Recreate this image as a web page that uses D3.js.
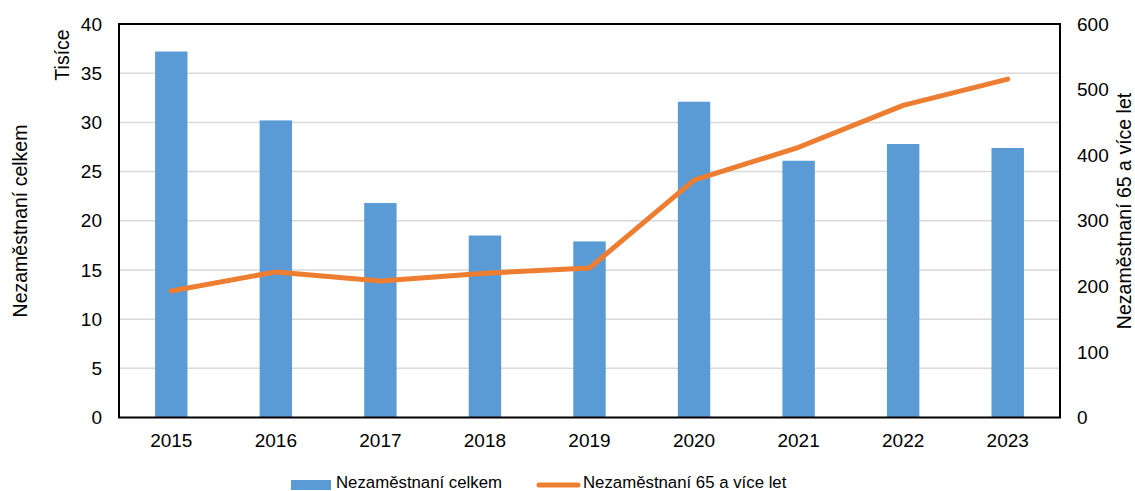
<!DOCTYPE html>
<html>
<head>
<meta charset="utf-8">
<script src="https://cdn.jsdelivr.net/npm/d3@7"></script>
<style>
  body { margin: 0; background: #fff; }
  svg text { font-family: "Liberation Sans", Arial, sans-serif; fill: #000; }
</style>
</head>
<body>
<div id="chart"></div>
<script>
// data
const years = ['2015', '2016', '2017', '2018', '2019', '2020', '2021', '2022', '2023'];
const totalThousands = [37.2, 30.2, 21.8, 18.5, 17.9, 32.1, 26.1, 27.8, 27.4];
const over65 = [193, 222, 208, 220, 228, 362, 412, 476, 516];
const leftTicks = [0, 5, 10, 15, 20, 25, 30, 35, 40];
const rightTicks = [0, 100, 200, 300, 400, 500, 600];
const seriesNames = ['Nezaměstnaní celkem', 'Nezaměstnaní 65 a více let'];

const W = 1135, H = 491;
const margin = {top: 24, right: 75, bottom: 73.5, left: 119};
const width = W - margin.left - margin.right;
const height = H - margin.top - margin.bottom;

const blue = '#5b9bd5';
const orange = '#ed7d31';

const svg = d3.select('#chart').append('svg')
    .attr('width', W)
    .attr('height', H);

const g = svg.append('g')
    .attr('transform', `translate(${margin.left},${margin.top})`);

const x = d3.scaleBand()
    .domain(years)
    .range([0, width])
    .paddingInner(0.69)
    .paddingOuter(0.345);

const y = d3.scaleLinear().domain([0, 40]).range([height, 0]);
const y2 = d3.scaleLinear().domain([0, 600]).range([height, 0]);

// gridlines
g.append('g')
  .selectAll('line')
  .data(leftTicks.slice(1, -1))
  .join('line')
    .attr('x1', 0)
    .attr('x2', width)
    .attr('y1', d => y(d))
    .attr('y2', d => y(d))
    .attr('stroke', '#d9d9d9')
    .attr('stroke-width', 1.5);

// bars
g.append('g')
  .selectAll('rect')
  .data(totalThousands)
  .join('rect')
    .attr('x', (d, i) => x(years[i]))
    .attr('y', d => y(d))
    .attr('width', x.bandwidth())
    .attr('height', d => height - y(d))
    .attr('fill', blue);

// line
const line = d3.line()
    .x((d, i) => x(years[i]) + x.bandwidth() / 2)
    .y(d => y2(d));

g.append('path')
    .datum(over65)
    .attr('d', line)
    .attr('fill', 'none')
    .attr('stroke', orange)
    .attr('stroke-width', 5)
    .attr('stroke-linecap', 'round')
    .attr('stroke-linejoin', 'round');

// frame
g.append('rect')
    .attr('width', width)
    .attr('height', height)
    .attr('fill', 'none')
    .attr('stroke', '#000')
    .attr('stroke-width', 2);

// axes
g.append('g')
    .call(d3.axisLeft(y).tickValues(leftTicks).tickSize(0).tickPadding(17))
    .call(a => a.select('.domain').remove());

g.append('g')
    .attr('transform', `translate(${width},0)`)
    .call(d3.axisRight(y2).tickValues(rightTicks).tickSize(0).tickPadding(17))
    .call(a => a.select('.domain').remove());

g.append('g')
    .attr('transform', `translate(0,${height})`)
    .call(d3.axisBottom(x).tickSize(0).tickPadding(16))
    .call(a => a.select('.domain').remove());

svg.selectAll('.tick text')
    .attr('font-size', 19)
    .attr('font-family', '"Liberation Sans", Arial, sans-serif');

// axis titles
svg.append('text')
    .attr('transform', 'translate(69,55) rotate(-90)')
    .attr('text-anchor', 'middle')
    .attr('font-size', 19.5)
    .text('Tisíce');

svg.append('text')
    .attr('transform', 'translate(27,221) rotate(-90)')
    .attr('text-anchor', 'middle')
    .attr('font-size', 19.5)
    .text(seriesNames[0]);

svg.append('text')
    .attr('transform', 'translate(1131,211) rotate(-90)')
    .attr('text-anchor', 'middle')
    .attr('font-size', 19.5)
    .text(seriesNames[1]);

// legend
const legend = svg.append('g');
legend.append('rect')
    .attr('x', 291).attr('y', 480)
    .attr('width', 40).attr('height', 10)
    .attr('fill', blue);
legend.append('text')
    .attr('x', 336).attr('y', 488)
    .attr('font-size', 16.8)
    .text(seriesNames[0]);
legend.append('line')
    .attr('x1', 539).attr('x2', 578)
    .attr('y1', 485).attr('y2', 485)
    .attr('stroke', orange)
    .attr('stroke-width', 5)
    .attr('stroke-linecap', 'round');
legend.append('text')
    .attr('x', 583).attr('y', 488)
    .attr('font-size', 16.8)
    .text(seriesNames[1]);
</script>
</body>
</html>
